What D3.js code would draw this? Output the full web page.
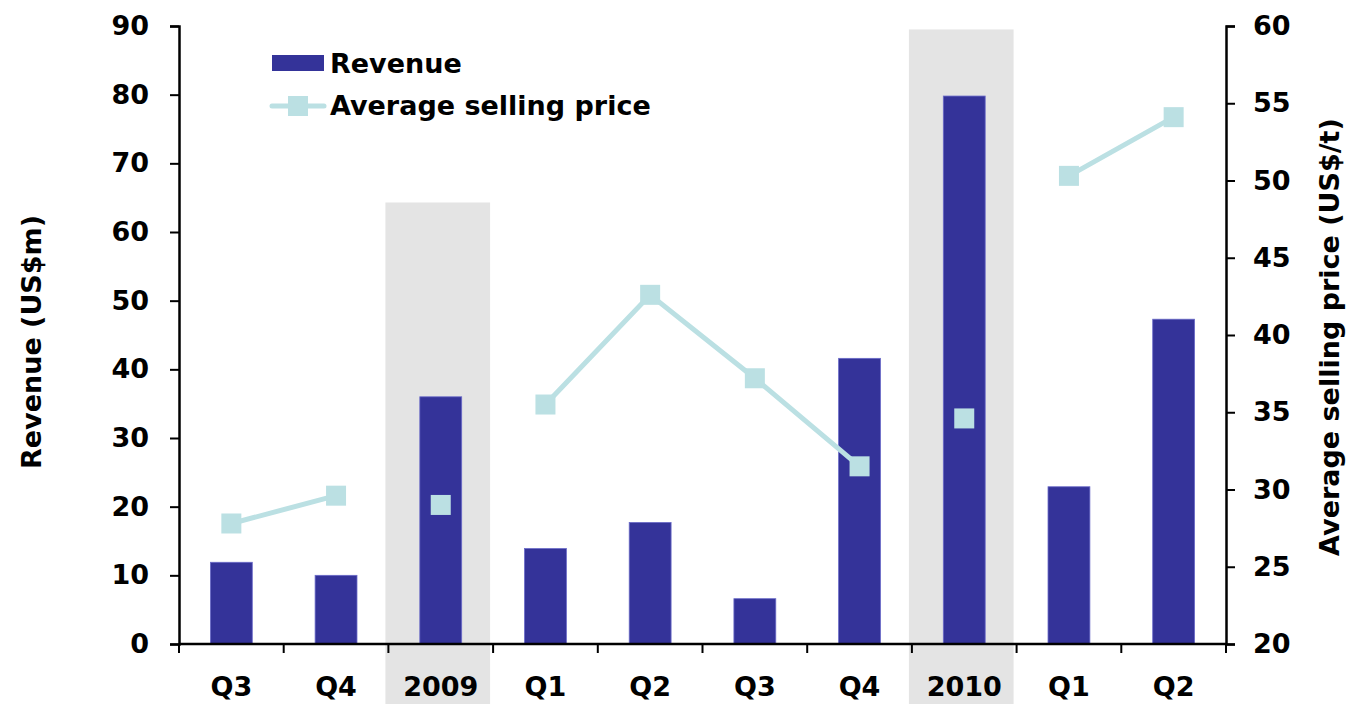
<!DOCTYPE html>
<html>
<head>
<meta charset="utf-8">
<script src="https://cdn.jsdelivr.net/npm/d3@7"></script>
<style>
  body { margin: 0; background: #fff; }
  text { font-family: "DejaVu Sans", "Liberation Sans", Arial, sans-serif; font-weight: bold; }
</style>
</head>
<body>
<svg id="chart" width="1346" height="704"></svg>
<script>
const margin = {top: 26, right: 120, bottom: 60, left: 179};
const W = 1346, H = 704;
const width = 1226 - margin.left;
const height = 644 - margin.top;

// data
const categories = ['Q3', 'Q4', '2009', 'Q1', 'Q2', 'Q3', 'Q4', '2010', 'Q1', 'Q2'];
const revenue = [11.9, 10.0, 36.0, 13.9, 17.7, 6.6, 41.6, 79.8, 22.9, 47.3];
const avgPrice = [27.8, 29.6, 29.0, 35.5, 42.6, 37.2, 31.5, 34.6, 50.3, 54.1];
// year markers break the price line and get a grey band behind them
const yearBands = [{index: 2, top: 64.3}, {index: 7, top: 89.5}];
const leftTicks = [0, 10, 20, 30, 40, 50, 60, 70, 80, 90];
const rightTicks = [20, 25, 30, 35, 40, 45, 50, 55, 60];

const barColor = '#343399';
const lineColor = '#bbe0e3';
const fontSize = '27px';

const svg = d3.select('#chart');
const g = svg.append('g').attr('transform', `translate(${margin.left},${margin.top})`);

const x = d3.scaleBand().domain(d3.range(categories.length)).range([0, width]);
const yL = d3.scaleLinear().domain([0, 90]).range([height, 0]);
const yR = d3.scaleLinear().domain([20, 60]).range([height, 0]);

// grey year bands
g.selectAll('.band').data(yearBands).join('rect')
    .attr('class', 'band')
    .attr('x', d => x(d.index) - 3)
    .attr('width', x.bandwidth())
    .attr('y', d => yL(d.top))
    .attr('height', d => H - margin.top - yL(d.top))
    .attr('fill', '#e4e4e4');

// bars
const bw = x.bandwidth() * 0.4;
g.selectAll('.bar').data(revenue).join('rect')
    .attr('class', 'bar')
    .attr('x', (d, i) => x(i) + (x.bandwidth() - bw) / 2)
    .attr('width', bw)
    .attr('y', d => yL(d))
    .attr('height', d => height - yL(d))
    .attr('fill', barColor)
    .attr('stroke', '#6a6ac8')
    .attr('stroke-width', 0.8);

// price line, broken at the year markers
const isYear = i => yearBands.some(b => b.index === i);
const line = d3.line()
    .defined((d, i) => !isYear(i))
    .x((d, i) => x(i) + x.bandwidth() / 2)
    .y(d => yR(d));
g.append('path')
    .datum(avgPrice)
    .attr('d', line)
    .attr('fill', 'none')
    .attr('stroke', lineColor)
    .attr('stroke-width', 5);

const ms = 20;
g.selectAll('.mark').data(avgPrice).join('rect')
    .attr('class', 'mark')
    .attr('x', (d, i) => x(i) + x.bandwidth() / 2 - ms / 2)
    .attr('y', d => yR(d) - ms / 2)
    .attr('width', ms)
    .attr('height', ms)
    .attr('fill', lineColor);

// axes
const styleAxis = sel => {
  sel.select('.domain').attr('stroke', '#000').attr('stroke-width', 2.5);
  sel.selectAll('.tick line').attr('stroke', '#000').attr('stroke-width', 2);
  sel.selectAll('.tick text').attr('fill', '#000')
      .style('font-size', fontSize).style('font-weight', 'bold')
      .style('font-family', '"DejaVu Sans", sans-serif');
};

g.append('g')
    .call(d3.axisLeft(yL).tickValues(leftTicks).tickSize(9).tickSizeOuter(9).tickPadding(21))
    .call(styleAxis);

g.append('g')
    .attr('transform', `translate(${width},0)`)
    .call(d3.axisRight(yR).tickValues(rightTicks).tickSize(9).tickSizeOuter(9).tickPadding(18))
    .call(styleAxis);

// x axis: ticks on category boundaries, labels centred
const xAxis = g.append('g').attr('transform', `translate(0,${height})`);
xAxis.append('line')
    .attr('x1', 0).attr('x2', width)
    .attr('stroke', '#000').attr('stroke-width', 2.5);
xAxis.selectAll('.xt').data(d3.range(categories.length + 1)).join('line')
    .attr('class', 'xt')
    .attr('x1', i => i * x.step()).attr('x2', i => i * x.step())
    .attr('y1', 0).attr('y2', 9)
    .attr('stroke', '#000').attr('stroke-width', 2);
xAxis.selectAll('.xl').data(categories).join('text')
    .attr('class', 'xl')
    .attr('x', (d, i) => x(i) + x.bandwidth() / 2)
    .attr('y', 52)
    .attr('text-anchor', 'middle')
    .style('font-size', fontSize)
    .text(d => d);

// axis titles
svg.append('text')
    .attr('transform', `translate(41,${margin.top + height / 2 + 7}) rotate(-90)`)
    .attr('text-anchor', 'middle')
    .style('font-size', fontSize)
    .text('Revenue (US$m)');

svg.append('text')
    .attr('transform', `translate(1339,${margin.top + height / 2 + 2}) rotate(-90)`)
    .attr('text-anchor', 'middle')
    .style('font-size', fontSize)
    .text('Average selling price (US$/t)');

// legend
const lg = svg.append('g').attr('transform', 'translate(272,0)');
lg.append('rect').attr('x', 0).attr('y', 55).attr('width', 52).attr('height', 16).attr('fill', barColor);
lg.append('text').attr('x', 58).attr('y', 73).style('font-size', fontSize).text('Revenue');
lg.append('line').attr('x1', 0).attr('x2', 52).attr('y1', 106).attr('y2', 106)
    .attr('stroke', lineColor).attr('stroke-width', 5).attr('stroke-linecap', 'round');
lg.append('rect').attr('x', 16).attr('y', 96).attr('width', 20).attr('height', 20).attr('fill', lineColor);
lg.append('text').attr('x', 58).attr('y', 115).style('font-size', fontSize).text('Average selling price');
</script>
</body>
</html>
